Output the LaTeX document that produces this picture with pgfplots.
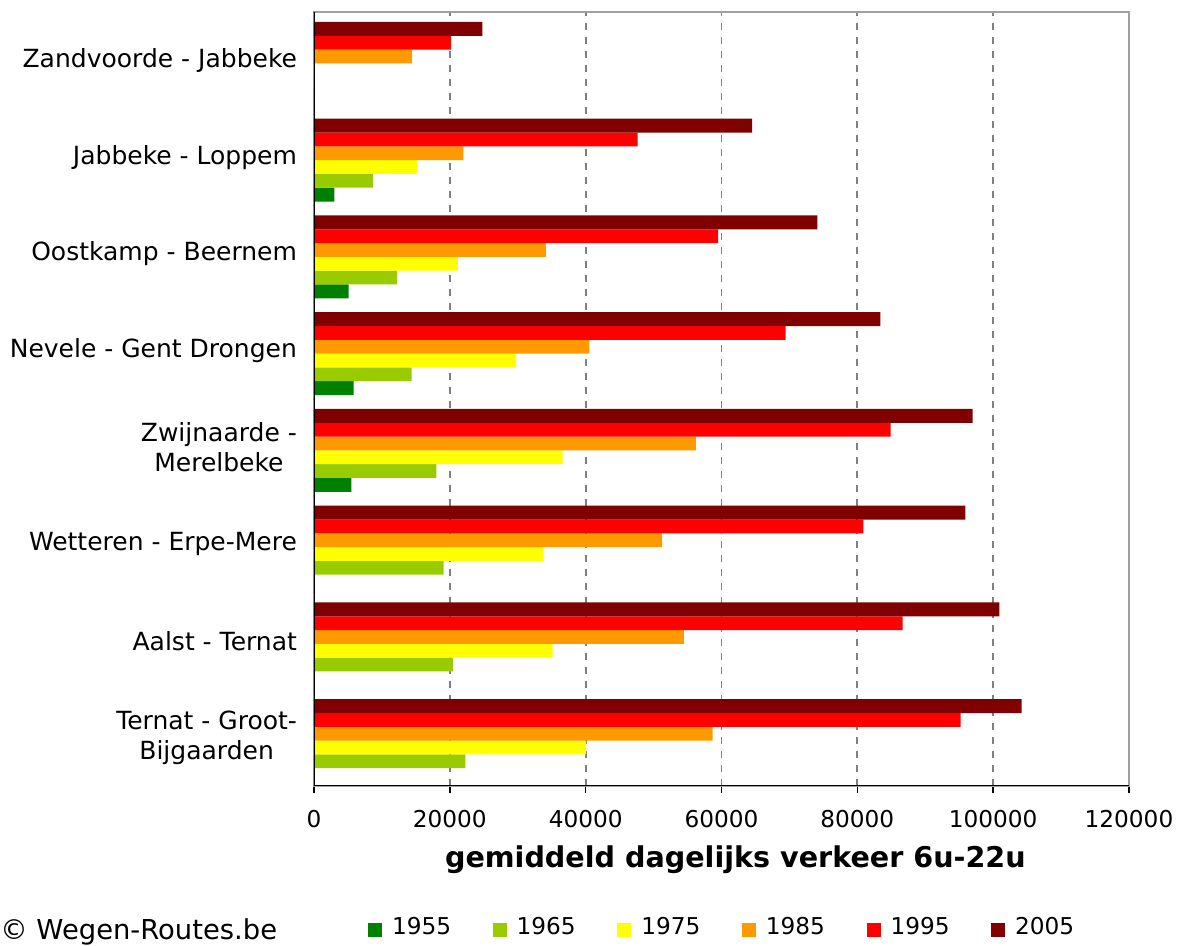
\documentclass[border=0pt]{standalone}
\usepackage{fontspec}
\setmainfont{DejaVu Sans}
\usepackage{pgfplots}
\pgfplotsset{compat=1.18}
\definecolor{c55}{HTML}{008000}
\definecolor{c65}{HTML}{99CC00}
\definecolor{c75}{HTML}{FFFF00}
\definecolor{c85}{HTML}{FF9900}
\definecolor{c95}{HTML}{FF0000}
\definecolor{c05}{HTML}{800000}
\definecolor{gridgray}{HTML}{808080}
\definecolor{framegray}{HTML}{A0A0A0}
\begin{document}
\begin{tikzpicture}
\path[use as bounding box] (0,0) rectangle (589pt,473pt);
\begin{axis}[
  at={(157pt,80pt)}, anchor=south west,
  scale only axis, width=407.5pt, height=387pt,
  xbar=0pt, bar width=6.9pt,
  every axis plot/.append style={yshift=-1.5pt},
  xmin=0, xmax=120000, ymin=0.5, ymax=8.5,
  xtick={0,20000,40000,60000,80000,100000,120000},
  xticklabels={0,20000,40000,60000,80000,100000,120000},
  xtick pos=bottom,
  scaled x ticks=false,
  tick align=outside,
  major tick length=3.5pt,
  x tick style={black, line width=0.8pt},
  y tick style={draw=none},
  xticklabel style={font=\fontsize{11.6}{14}\selectfont, yshift=-5pt},
  ytick={1,2,3,4,5,6,7,8},
  yticklabels={{Ternat - Groot-\\Bijgaarden},{Aalst - Ternat},{Wetteren - Erpe-Mere},{Zwijnaarde -\\Merelbeke},{Nevele - Gent Drongen},{Oostkamp - Beernem},{Jabbeke - Loppem},{Zandvoorde - Jabbeke}},
  yticklabel style={font=\fontsize{12.5}{15}\selectfont, align=center, xshift=-1.5pt},
  xmajorgrids,
  major grid style={gridgray, line width=0.9pt, dash pattern=on 3.5pt off 3.5pt},
  axis line style={framegray, line width=1pt},
  xlabel={\textbf{gemiddeld dagelijks verkeer 6u-22u}},
  xlabel style={font=\fontsize{14.3}{16}\selectfont, at={(axis description cs:0.517,0)}, anchor=center, yshift=-37pt},
  legend columns=6,
  legend image code/.code={\fill[#1] (0pt,-3.5pt) rectangle (7pt,3.5pt); \path (10pt,0pt);},
  legend style={draw=none, fill=none, at={(axis description cs:0.502,0)}, anchor=center, yshift=-70.5pt,
    font=\fontsize{11.6}{14}\selectfont,
    /tikz/every even column/.append style={column sep=18.8pt}},
]
\addplot[fill=c55, draw=none] coordinates {(0,1) (0,2) (0,3) (5500,4) (5830,5) (5100,6) (2990,7) (0,8)};
\addplot[fill=c65, draw=none] coordinates {(22280,1) (20460,2) (19080,3) (18000,4) (14380,5) (12250,6) (8720,7) (0,8)};
\addplot[fill=c75, draw=none] coordinates {(40070,1) (35140,2) (33740,3) (36610,4) (29770,5) (21200,6) (15140,7) (0,8)};
\addplot[fill=c85, draw=none] coordinates {(58710,1) (54470,2) (51270,3) (56210,4) (40560,5) (34140,6) (21980,7) (14440,8)};
\addplot[fill=c95, draw=none] coordinates {(95200,1) (86660,2) (80880,3) (84890,4) (69430,5) (59500,6) (47660,7) (20180,8)};
\addplot[fill=c05, draw=none] coordinates {(104180,1) (100900,2) (95900,3) (96990,4) (83380,5) (74120,6) (64500,7) (24800,8)};
\legend{1955,1965,1975,1985,1995,2005}
\draw[black, line width=1pt] (rel axis cs:0,1) -- (rel axis cs:0,0) -- (rel axis cs:1,0);
\pgfplotsinvokeforeach{0.5,1.5,2.5,3.5,4.5,5.5,6.5,7.5,8.5}{\draw[black, line width=0.8pt] (axis cs:0,#1) -- ++(-4pt,0pt);}
\end{axis}
\node[anchor=west, inner sep=0pt, font=\fontsize{13.7}{15}\selectfont] at (0pt,7pt) {© Wegen-Routes.be};
\end{tikzpicture}
\end{document}
